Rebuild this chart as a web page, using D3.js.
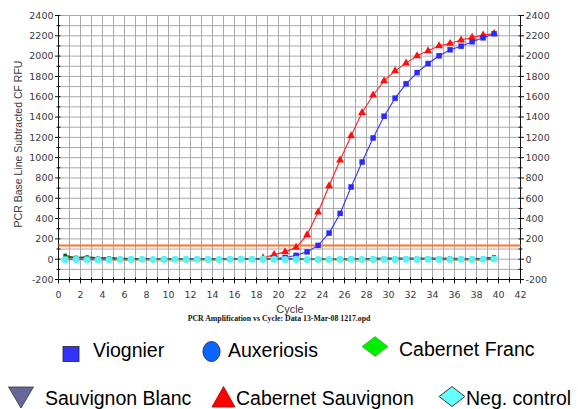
<!DOCTYPE html>
<html>
<head>
<meta charset="utf-8">
<script src="https://cdn.jsdelivr.net/npm/d3@7/dist/d3.min.js"></script>
<style>
  html, body { margin: 0; padding: 0; background: #fff; }
  svg { display: block; }
</style>
</head>
<body>
<svg id="chart" width="578" height="409"></svg>
<script>
// ---------- DATA ----------
const cycles = d3.range(1, 41);               // cycle numbers 1..40
const xTickLabels = [0,2,4,6,8,10,12,14,16,18,20,22,24,26,28,30,32,34,36,38,40,42];
const yTickLabels = [-200,0,200,400,600,800,1000,1200,1400,1600,1800,2000,2200,2400];
const threshold = 135;

const cabernetSauvignon = [4,2,0,-2,1,3,-1,0,2,-2,1,0,-1,2,0,1,-1,3,
  12,45,72,115,240,464,721,976,1214,1444,1615,1756,1855,1931,2003,2052,2101,2124,2158,2184,2207,2222];
const viognier = [2,1,0,-1,0,1,-2,0,1,-1,0,1,0,-1,1,0,-1,0,2,
  5,15,38,72,136,257,451,711,957,1194,1408,1586,1727,1838,1927,2003,2062,2098,2141,2180,2220];
const cabernetFranc = [38,18,22,12,14,8,6,3,2,0,1,-1,0,2,0,1,0,-1,1,0,
  2,1,0,1,-1,0,2,1,0,1,2,0,1,0,2,1,0,1,2,4];
const sauvignonBlanc = [20,12,14,10,12,8,4,2,0,1,0,-1,0,1,2,0,1,0,2,1,
  0,2,1,0,1,2,1,3,10,12,11,12,10,12,11,10,8,6,10,22];
const auxeriosis = [8,-4,-8,-6,-10,-12,-14,-16,-15,-18,-15,-17,-16,-14,-10,-6,-4,-2,0,0,
  -2,-4,-6,-5,-8,-12,-16,-18,-12,-4,0,2,0,-2,-6,-10,-14,-16,-12,-6];
const negControl = [-6,-4,-5,-7,-5,-3,-2,-1,-3,-2,-1,-2,-1,-2,-3,-1,0,-1,-2,-1,
  -3,-2,-3,-4,-3,-2,-1,-3,-2,-1,-2,-1,-2,-1,-2,-3,-1,-2,-1,2];

const legendLabels = ["Viognier","Auxeriosis","Cabernet Franc","Sauvignon Blanc","Cabernet Sauvignon","Neg. control"];
const yAxisTitle = "PCR Base Line Subtracted CF RFU";
const xAxisTitle = "Cycle";
const subTitle = "PCR Amplification vs Cycle: Data 13-Mar-08 1217.opd";

// ---------- LAYOUT ----------
const svg = d3.select("#chart");
const x = d3.scaleLinear().domain([0, 42]).range([58.5, 520.5]);
const y = d3.scaleLinear().domain([-200, 2400]).range([279.5, 15.5]);
const cyc = c => x(c - 0.4);   // sample plotted slightly before cycle mark

const grid = svg.append("g");
grid.selectAll("line.v").data(d3.range(1, 42)).join("line")
  .attr("x1", d => x(d)).attr("x2", d => x(d))
  .attr("y1", y(2400)).attr("y2", y(-200))
  .attr("stroke", "#a9a9a9").attr("stroke-width", 1);
grid.selectAll("line.h").data(d3.range(-100, 2401, 100)).join("line")
  .attr("x1", x(0)).attr("x2", x(42))
  .attr("y1", d => y(d)).attr("y2", d => y(d))
  .attr("stroke", "#a9a9a9").attr("stroke-width", 1);

// axes
const ax = svg.append("g").attr("stroke", "#111").attr("stroke-width", 1);
ax.append("line").attr("x1", x(0)).attr("x2", x(0)).attr("y1", y(2400)).attr("y2", y(-200));
ax.append("line").attr("x1", x(42)).attr("x2", x(42)).attr("y1", y(2400)).attr("y2", y(-200));
ax.append("line").attr("x1", x(0)).attr("x2", x(42)).attr("y1", y(-200)).attr("y2", y(-200));
const yMinor = d3.range(-200, 2401, 100);
ax.selectAll("line.ly").data(yMinor).join("line")
  .attr("x1", d => x(0) - (d % 200 === 0 ? 3.5 : 2)).attr("x2", x(0) + 2)
  .attr("y1", d => y(d)).attr("y2", d => y(d));
ax.selectAll("line.ry").data(yMinor).join("line")
  .attr("x1", x(42) - 2).attr("x2", d => x(42) + (d % 200 === 0 ? 3.5 : 2))
  .attr("y1", d => y(d)).attr("y2", d => y(d));
ax.selectAll("line.bx").data(d3.range(0, 43)).join("line")
  .attr("x1", d => x(d)).attr("x2", d => x(d))
  .attr("y1", y(-200) - 2).attr("y2", d => y(-200) + (d % 2 === 0 ? 4 : 3));

const tickFont = "'DejaVu Sans', Verdana, sans-serif";
svg.append("g").selectAll("text").data(yTickLabels).join("text")
  .attr("x", x(0) - 5).attr("y", d => y(d)).attr("dy", "0.35em")
  .attr("text-anchor", "end").attr("font-family", tickFont).attr("font-size", 9.5)
  .attr("fill", "#3a3a3a").text(d => d);
svg.append("g").selectAll("text").data(yTickLabels).join("text")
  .attr("x", x(42) + 5).attr("y", d => y(d)).attr("dy", "0.35em")
  .attr("text-anchor", "start").attr("font-family", tickFont).attr("font-size", 9.5)
  .attr("fill", "#3a3a3a").text(d => d);
svg.append("g").selectAll("text").data(xTickLabels).join("text")
  .attr("x", d => x(d)).attr("y", 298)
  .attr("text-anchor", "middle").attr("font-family", tickFont).attr("font-size", 9.5)
  .attr("fill", "#3a3a3a").text(d => d);

// titles
svg.append("text").attr("transform", "translate(22,144) rotate(-90)")
  .attr("text-anchor", "middle").attr("font-family", "'Liberation Sans', Arial, sans-serif")
  .attr("font-size", 10.5).attr("fill", "#3a3a3a").text(yAxisTitle);
svg.append("text").attr("x", 290).attr("y", 312.5).attr("text-anchor", "middle")
  .attr("font-family", "'Liberation Sans', Arial, sans-serif").attr("font-size", 11)
  .attr("fill", "#3a3a3a").text(xAxisTitle);
svg.append("text").attr("x", 279).attr("y", 320.5).attr("text-anchor", "middle")
  .attr("font-family", "'Liberation Serif', 'Times New Roman', serif").attr("font-weight", "bold")
  .attr("font-size", 7.8).attr("fill", "#111").text(subTitle);

// threshold
svg.append("line").attr("x1", x(0)).attr("x2", x(42))
  .attr("y1", y(threshold)).attr("y2", y(threshold))
  .attr("stroke", "#ff7326").attr("stroke-width", 2);

// ---------- SERIES ----------
const plot = svg.append("g");
function drawLine(values, color, width, curve) {
  const line = d3.line().x((d, i) => cyc(cycles[i])).y(d => y(d)).curve(curve || d3.curveLinear);
  plot.append("path").datum(values).attr("d", line)
    .attr("fill", "none").attr("stroke", color).attr("stroke-width", width);
}
function drawMarks(values, type, size, color, filter) {
  const sym = d3.symbol().type(type).size(size);
  plot.append("g").selectAll("path").data(values.map((v, i) => [cycles[i], v]).filter(filter || (() => true)))
    .join("path")
    .attr("transform", d => `translate(${cyc(d[0])},${y(d[1])})`)
    .attr("d", sym).attr("fill", color);
}

// high curves
drawLine(cabernetSauvignon, "#ff2020", 1.1);
drawMarks(cabernetSauvignon, d3.symbolTriangle, 28, "#ff1010", d => d[0] >= 19);
drawLine(viognier, "#3434ff", 1.1);
drawMarks(viognier, d3.symbolSquare, 30, "#2a2aff", d => d[0] >= 20);

// baseline curves
drawLine(auxeriosis, "#d9a03a", 1, d3.curveCardinal);
drawLine(cabernetFranc, "#145c14", 1.4, d3.curveCardinal);
drawMarks(cabernetFranc, d3.symbolSquare, 12, "#145c14", d => d[0] <= 6);
drawLine(sauvignonBlanc, "#3c4a6a", 1, d3.curveLinear);
drawMarks(sauvignonBlanc, d3.symbolSquare, 16, "#33405e", d => d[0] >= 29);
drawLine(negControl, "#3a78d0", 1);
drawMarks(negControl, d3.symbolCircle, 40, "#5ff0f5");

// ---------- LEGEND ----------
const legFont = "'Liberation Sans', Arial, Helvetica, sans-serif";
const legendItems = [
  { label: legendLabels[0], mx: 71, my: 354, tx: 93, ty: 357, draw: g => g.append("rect").attr("x", -8).attr("y", -7.5).attr("width", 16).attr("height", 15).attr("fill", "#3333ff").attr("stroke", "#222").attr("stroke-width", 0.8) },
  { label: legendLabels[1], mx: 211.5, my: 351.5, tx: 228, ty: 357, draw: g => g.append("ellipse").attr("rx", 8.6).attr("ry", 10).attr("fill", "#0a66ff").attr("stroke", "#222").attr("stroke-width", 0.8) },
  { label: legendLabels[2], mx: 375, my: 346.5, tx: 399, ty: 356, draw: g => g.append("path").attr("d", "M0,-10L13,0L0,10L-13,0Z").attr("fill", "#00ee00").attr("stroke", "#3a9a3a").attr("stroke-width", 0.6) },
  { label: legendLabels[3], mx: 21, my: 397, tx: 45, ty: 405, draw: g => g.append("path").attr("d", "M-12.5,-10L12.5,-10L0,11Z").attr("fill", "#66669a").attr("stroke", "#333").attr("stroke-width", 0.8) },
  { label: legendLabels[4], mx: 223.5, my: 397, tx: 236, ty: 405, draw: g => g.append("path").attr("d", "M0,-10.5L11.5,10L-11.5,10Z").attr("fill", "#ff0000").attr("stroke", "#a00").attr("stroke-width", 0.8) },
  { label: legendLabels[5], mx: 452, my: 396.5, tx: 466, ty: 405, draw: g => g.append("path").attr("d", "M0,-10L12.8,0L0,10L-12.8,0Z").attr("fill", "#66ffff").attr("stroke", "#222").attr("stroke-width", 0.9) }
];
const leg = svg.append("g");
legendItems.forEach(it => {
  const g = leg.append("g").attr("transform", `translate(${it.mx},${it.my})`);
  it.draw(g);
  leg.append("text").attr("x", it.tx).attr("y", it.ty)
    .attr("font-family", legFont).attr("font-size", 19.5).attr("fill", "#000").text(it.label);
});
</script>
</body>
</html>
